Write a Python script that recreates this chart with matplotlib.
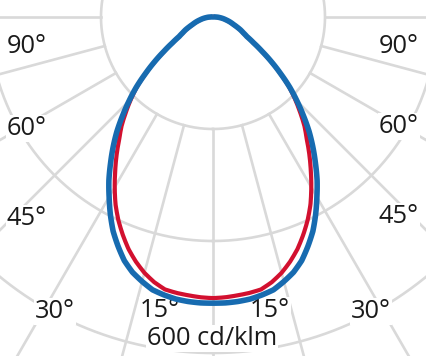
import numpy as np
import matplotlib
matplotlib.use("Agg")
import matplotlib.pyplot as plt

# ---- data (cd/klm), symmetric distributions, gamma angle from nadir ----
angles_deg = [0, 2.5, 5, 7.5, 10, 12.5, 15, 17.5, 20, 22.5, 25, 27.5, 30, 32.5, 35, 37.5,
              40, 42.5, 45, 47.5, 50, 52.5, 55, 57.5, 60, 62.5, 65, 67.5, 70, 72.5, 75,
              77.5, 80, 82.5, 85, 87.5, 90]
blue_vals = [511, 511, 510, 508, 504, 499, 489, 478, 463, 443, 422, 397, 371, 346, 319, 293,
             267, 239, 212, 186, 158, 132, 107, 86, 70, 61, 54, 46, 39, 34, 29,
             24, 20, 16, 12, 9, 5]
red_vals = [502, 501, 499, 497, 494, 485, 473, 458, 441, 421, 400, 377, 351, 325, 300, 275,
            254, 230, 207, 184, 157, 131, 106, 85, 69, 60, 53, 45, 38, 33, 28,
            23, 19, 15, 11, 8, 4]
ring_values = [200, 400, 600, 800]
spoke_angles = [-90, -75, -60, -45, -30, -15, 0, 15, 30, 45, 60, 75, 90]
scale_label = "600 cd/klm"
angle_labels = ["90°", "60°", "45°", "30°", "15°", "15°", "30°", "45°", "60°", "90°"]

W, H = 427, 356
fig = plt.figure(figsize=(W / 100, H / 100), dpi=100)
fig.patch.set_facecolor("white")

cx, cy = 213, 17          # centre in pixels (from top-left)
rmax = 800
rpx = 448                  # pixel radius of rmax
rect = [(cx - rpx) / W, 1 - (cy + rpx) / H, 2 * rpx / W, 2 * rpx / H]


def make_polar(label, z):
    a = fig.add_axes(rect, projection="polar", label=label, zorder=z)
    a.set_theta_zero_location("S")
    a.set_theta_direction(1)
    a.set_ylim(0, rmax)
    a.grid(False)
    a.set_xticks([])
    a.set_yticks([])
    a.spines["polar"].set_visible(False)
    a.patch.set_alpha(0)
    return a


ax_grid = make_polar("grid", 0)
ax = make_polar("curves", 20)

grid_c = "#d9d9d9"
tt = np.linspace(0, 2 * np.pi, 721)
for rv in ring_values:
    ax_grid.plot(tt, np.full_like(tt, rv), color=grid_c, lw=1.9)
for a in spoke_angles:
    ax_grid.plot([np.radians(a)] * 2, [ring_values[0], rmax], color=grid_c, lw=1.9)


def full_curve(vals):
    a = np.array(angles_deg, dtype=float)
    v = np.array(vals, dtype=float)
    th = np.concatenate([-a[::-1], a[1:]])
    r = np.concatenate([v[::-1], v[1:]])
    return np.radians(th), r


th, r = full_curve(red_vals)
ln, = ax.plot(th, r, color="#d2102f", lw=3.0, zorder=3, solid_joinstyle="round")
ln.get_path()._interpolation_steps = 20
th, r = full_curve(blue_vals)
ln, = ax.plot(th, r, color="#176bb0", lw=4.0, zorder=4, solid_joinstyle="round")
ln.get_path()._interpolation_steps = 20

font = dict(family=["Open Sans", "DejaVu Sans"], fontsize=18.3, color="#1a1a1a")
bb = dict(facecolor="white", edgecolor="none", pad=1.0)
label_pos = [(27, 53), (27, 135), (27, 225), (55, 318), (160, 317),
             (270, 317), (371, 318), (399, 223), (399, 133), (399, 53)]
for txt, (x, y) in zip(angle_labels, label_pos):
    fig.text(x / W, 1 - y / H, txt, ha="center", va="baseline", bbox=bb, zorder=10, **font)
fig.text(212 / W, 1 - 345 / H, scale_label, ha="center", va="baseline", bbox=bb, zorder=10, **font)

fig.savefig("out.png", dpi=100, facecolor="white")
